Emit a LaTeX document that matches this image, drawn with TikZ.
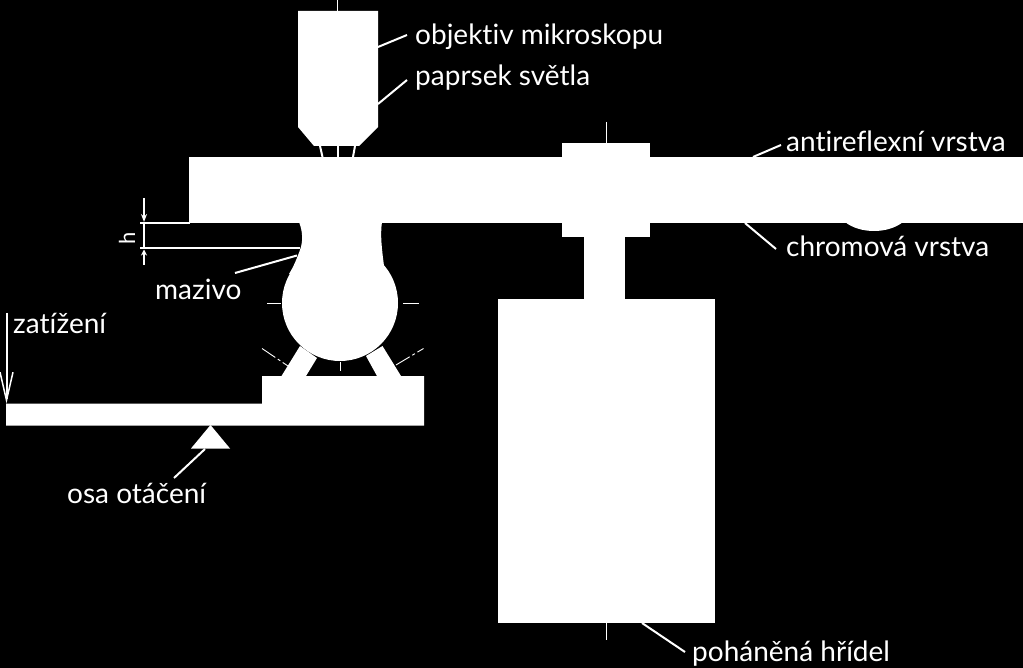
\documentclass[tikz,border=0pt]{standalone}
\usepackage{fontspec}
\setmainfont[Ligatures=NoCommon]{Lato}
\usetikzlibrary{arrows.meta}
\tikzset{
	part/.style={fill=white, draw=none},
	leader/.style={draw=white, line width=2pt},
	axisline/.style={draw=white, line width=0.9pt},
	popis/.style={text=white, anchor=base west, inner sep=0pt, font=\fontsize{28}{32}\selectfont},
}
\begin{document}
\begin{tikzpicture}[x=1pt, y=-1pt]
	\fill[black] (0,0) rectangle (1023,668);
	\useasboundingbox (0,0) rectangle (1023,668);
	\fill[part] (298,11) -- (378,11) -- (378,127) -- (359,146) -- (314,146) -- (298,127) -- cycle;
	\fill[part] (188.5,157) rectangle (1023,223);
	\fill[part] (562,143) rectangle (650,237);
	\fill[part] (584,237) rectangle (625,299);
	\fill[part] (498,299) rectangle (715,623);
	\fill[part] (845,222) .. controls (860,234) and (888,234) .. (903,222) -- cycle;
	\fill[part] (340,303) circle (58);
	\fill[part] (299,222) .. controls (303,232) and (303,242) .. (300,250) .. controls (297,258) and (294,266) .. (289,274) -- (384,266) .. controls (382,250) and (380,235) .. (382,222) -- cycle;
	\fill[part] (300,346) -- (281.5,376) -- (306,376) -- (317,358) -- cycle;
	\fill[part] (382.5,346) -- (401,376) -- (377,376) -- (366,356) -- cycle;
	\fill[part] (262,376) -- (424,376) -- (424,425.5) -- (6,425.5) -- (6,403.5) -- (262,403.5) -- cycle;
	\fill[part] (210.5,425) -- (230,448.5) -- (191,448.5) -- cycle;

	\draw[axisline] (337.5,0) -- (337.5,11);
	\draw[axisline] (606,122) -- (606,143);
	\draw[axisline] (606,623) -- (606,640);
	\draw[axisline] (267,303) -- (281,303);
	\draw[axisline] (403,303) -- (419,303);
	\draw[axisline] (340,362) -- (340,371);
	\draw[axisline, dash pattern=on 16pt off 3pt on 3pt off 3pt] (262,348.5) -- (288,366);
	\draw[axisline, dash pattern=on 16pt off 3pt on 3pt off 3pt] (396,365) -- (423.5,348.5);

	\draw[leader] (320,146) -- (322.5,157);
	\draw[leader] (337.5,146) -- (337.5,157);
	\draw[leader] (355,146) -- (353,157);

	\node[popis] (objektiv) at (415,45) {objektiv mikroskopu};
	\node[popis] (paprsek) at (415,86) {paprsek světla};
	\node[popis] (antireflex) at (786,152) {antireflexní vrstva};
	\node[popis] (chrom) at (786,257) {chromová vrstva};
	\node[popis] (mazivo) at (155,300) {mazivo};
	\node[popis] (zatizeni) at (13,334) {zatížení};
	\node[popis] (osa) at (67,503) {osa otáčení};
	\node[popis] (hridel) at (692,661) {poháněná hřídel};
	\node[popis, rotate=90, font=\fontsize{22}{26}\selectfont, anchor=base] (vyska) at (135,238) {h};

	\coordinate (a1) at (378,47);
	\coordinate (a2) at (407,35);
	\coordinate (b1) at (378,104);
	\coordinate (b2) at (407,80);
	\coordinate (c1) at (753,157);
	\coordinate (c2) at (781,145);
	\coordinate (d1) at (745,223);
	\coordinate (d2) at (776,249);
	\coordinate (e1) at (235,273);
	\coordinate (e2) at (297,255.5);
	\coordinate (f1) at (205,449);
	\coordinate (f2) at (174,478);
	\coordinate (g1) at (642,623);
	\coordinate (g2) at (685,652);
	\draw[leader] (a1) -- (a2);
	\draw[leader] (b1) -- (b2);
	\draw[leader] (c1) -- (c2);
	\draw[leader] (d1) -- (d2);
	\draw[leader] (e1) -- (e2);
	\draw[leader] (f1) -- (f2);
	\draw[leader] (g1) -- (g2);

	\coordinate (h1) at (140,223);
	\coordinate (h2) at (190,223);
	\coordinate (h3) at (140,248.5);
	\coordinate (h4) at (300,248.5);
	\draw[leader] (h1) -- (h2);
	\draw[leader] (h3) -- (h4);
	\draw[white, line width=1.5pt] (144,223) -- (144,248.5);
	\draw[white, line width=1.5pt, -{Stealth[length=8pt, width=6pt]}] (144,198) -- (144,222);
	\draw[white, line width=1.5pt, -{Stealth[length=6pt, width=6pt]}] (144,265) -- (144,249.5);

	\coordinate (load) at (6.5,403.5);
	\coordinate (loadtop) at (6.5,313);
	\draw[white, line width=2pt, -{Straight Barb[length=28pt, width=13pt, line width=1.5pt]}] (loadtop) -- (load);
\end{tikzpicture}
\end{document}
